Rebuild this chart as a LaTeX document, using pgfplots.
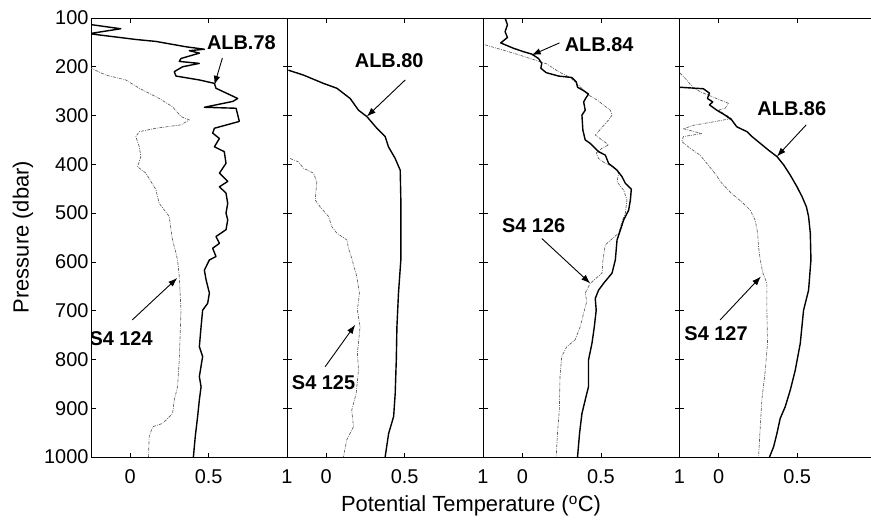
\documentclass[border=0pt]{standalone}
\usepackage{pgfplots}
\pgfplotsset{compat=1.18}
\usepackage{fontspec}
\setmainfont{Liberation Sans}
\usetikzlibrary{arrows.meta}

\pgfplotsset{
  panel/.style={
    scale only axis, width=196bp, height=439bp,
    anchor=south west,
    xmin=-0.25, xmax=1, ymin=100, ymax=1000, y dir=reverse,
    xtick={0,0.5,1}, xticklabels={0,0.5,1},
    ytick={100,200,...,1000}, yticklabels={},
    tick align=inside, major tick length=4.5bp,
    tick style={black, line width=0.7bp},
    axis line style={black, line width=1bp},
    ticklabel style={font=\fontsize{20}{20}\selectfont},
    xticklabel style={yshift=-9bp},
    yticklabel style={xshift=1bp},
    /pgf/number format/assume math mode=true,
    clip=true,
  },
}
\tikzset{
  alb/.style={black, line width=1.4bp, line join=round},
  s4/.style={black!65, line width=0.65bp, line join=round,
    dash pattern=on 3bp off 1.2bp on 0.8bp off 1.2bp},
  lbl/.style={font=\fontsize{20}{20}\selectfont\bfseries},
  arr/.style={-{Latex[length=9bp,width=6.5bp]}, line width=0.9bp, black},
}

\begin{document}
\begin{tikzpicture}[x=1bp,y=1bp]

% ---- ALB.78 / S4 124 ----
\begin{axis}[panel, at={(91bp,64bp)},
  yticklabels={100,200,300,400,500,600,700,800,900,1000}]
\addplot[s4] coordinates {
(-0.27,100) (-0.26,200) (-0.25,203) (-0.155,217) (-0.028,227) (0.058,244) (0.185,265)
(0.27,282) (0.324,302) (0.377,309) (0.324,319) (0.164,326) (0.058,333) (0.036,343)
(0.058,364) (0.068,384) (0.047,405) (0.1,418) (0.164,452) (0.185,480) (0.249,507)
(0.26,534) (0.27,555) (0.292,582) (0.302,596) (0.313,630) (0.324,699) (0.313,801)
(0.302,856) (0.281,883) (0.27,911) (0.207,931) (0.143,938) (0.121,958) (0.117,1000)};
\addplot[alb] coordinates {
(-0.27,110) (-0.24,114) (-0.06,122) (-0.24,131) (-0.24,133) (0.036,144) (0.164,148)
(0.356,159) (0.473,164) (0.377,167) (0.441,172) (0.324,183) (0.313,189) (0.441,193)
(0.334,200) (0.281,210) (0.292,219) (0.441,227) (0.537,234) (0.547,244) (0.686,265)
(0.654,271) (0.473,283) (0.675,285) (0.686,299) (0.696,312) (0.537,326) (0.526,336)
(0.569,347) (0.537,364) (0.6,374) (0.611,398) (0.569,418) (0.622,435) (0.569,446)
(0.611,459) (0.622,480) (0.611,500) (0.622,514) (0.611,534) (0.547,548) (0.569,562)
(0.526,572) (0.547,589) (0.505,596) (0.473,617) (0.484,637) (0.505,664) (0.494,685)
(0.462,699) (0.452,733) (0.441,774) (0.462,794) (0.441,835) (0.452,856) (0.441,883)
(0.430,917) (0.415,958) (0.403,1000)};
\node[lbl] at (axis cs:0.709,151) {ALB.78};
\draw[arr] (axis cs:0.588,182) -- (axis cs:0.537,237);
\node[lbl] at (axis cs:-0.058,758) {S4 124};
\draw[arr] (axis cs:0.013,719) -- (axis cs:0.30,633);
\end{axis}

% ---- ALB.80 / S4 125 ----
\begin{axis}[panel, at={(287bp,64bp)}]
\addplot[s4] coordinates {
(-0.23,388) (-0.177,395) (-0.145,408) (-0.081,418) (-0.06,436) (-0.07,473) (-0.039,487)
(0.015,507) (0.036,528) (0.068,541) (0.132,555) (0.142,572) (0.163,593) (0.195,630)
(0.212,664) (0.199,699) (0.216,733) (0.199,787) (0.206,822) (0.191,870) (0.163,904)
(0.174,938) (0.131,965) (0.110,1000)};
\addplot[alb] coordinates {
(-0.241,207) (-0.145,217) (-0.018,234) (0.068,244) (0.153,265) (0.206,289) (0.259,302)
(0.323,326) (0.376,343) (0.397,364) (0.44,388) (0.472,412) (0.476,473) (0.476,596)
(0.461,664) (0.451,733) (0.447,801) (0.44,870) (0.43,917) (0.398,952) (0.376,1000)};
\node[lbl] at (axis cs:0.402,188) {ALB.80};
\draw[arr] (axis cs:0.504,227) -- (axis cs:0.259,302);
\node[lbl] at (axis cs:-0.017,848) {S4 125};
\draw[arr] (axis cs:-0.007,815) -- (axis cs:0.185,729);
\end{axis}

% ---- ALB.84 / S4 126 ----
\begin{axis}[panel, at={(483.3bp,64bp)}]
\addplot[s4] coordinates {
(-0.239,155) (-0.164,162) (-0.058,172) (0.049,183) (0.155,194) (0.23,210) (0.304,222)
(0.368,241) (0.421,258) (0.475,268) (0.56,289) (0.571,299) (0.549,309) (0.464,340)
(0.507,350) (0.549,360) (0.507,367) (0.47,377) (0.485,388) (0.528,398) (0.581,405)
(0.613,418) (0.603,436) (0.645,453) (0.666,473) (0.656,500) (0.634,518) (0.613,541)
(0.528,565) (0.513,596) (0.507,623) (0.432,644) (0.4,664) (0.41,681) (0.39,705)
(0.368,733) (0.335,760) (0.282,774) (0.25,794) (0.239,835) (0.235,904) (0.223,951)
(0.215,1000)};
\addplot[alb] coordinates {
(-0.111,100) (-0.096,114) (-0.111,128) (-0.096,140) (-0.139,151) (-0.058,162) (0.006,169)
(0.059,174) (0.102,183) (0.123,193) (0.117,203) (0.151,212) (0.23,219) (0.315,222)
(0.343,231) (0.351,242) (0.39,249) (0.421,256) (0.406,263) (0.39,272) (0.4,289)
(0.379,299) (0.385,330) (0.4,350) (0.432,357) (0.485,374) (0.528,381) (0.549,398)
(0.603,412) (0.634,425) (0.656,439) (0.694,451) (0.688,473) (0.677,494) (0.645,514)
(0.624,535) (0.603,555) (0.592,596) (0.571,623) (0.517,644) (0.485,658) (0.464,675)
(0.47,699) (0.458,733) (0.443,767) (0.421,801) (0.421,856) (0.4,883) (0.379,911)
(0.364,951) (0.351,1000)};
\node[lbl] at (axis cs:0.489,155) {ALB.84};
\draw[arr] (axis cs:0.236,151) -- (axis cs:0.059,176);
\node[lbl] at (axis cs:0.071,525) {S4 126};
\draw[arr] (axis cs:0.123,552) -- (axis cs:0.432,644);
\end{axis}

% ---- ALB.86 / S4 127 (open on the right) ----
\begin{axis}[panel, at={(679.5bp,64bp)}, width=191.5bp, xmax=0.971,
  xtick={0,0.5}, xticklabels={0,0.5},
  axis x line*=box, axis y line*=left]
\addplot[s4] coordinates {
(-0.247,213) (-0.204,227) (-0.161,244) (-0.098,254) (-0.044,261) (0.009,268) (0.062,275)
(0.041,285) (-0.002,289) (0.083,306) (-0.036,313) (-0.161,320) (-0.225,327) (-0.108,337)
(-0.225,343) (-0.236,353) (-0.183,367) (-0.119,381) (-0.076,398) (-0.023,419) (0.02,439)
(0.083,460) (0.147,477) (0.201,494) (0.233,515) (0.248,541) (0.254,569) (0.265,596)
(0.282,623) (0.307,644) (0.307,699) (0.311,767) (0.297,822) (0.275,883) (0.265,938)
(0.254,1000)};
\addplot[alb] coordinates {
(-0.247,242) (-0.098,245) (-0.059,254) (-0.072,265) (-0.038,272) (-0.059,278) (-0.012,289)
(0.04,299) (0.083,309) (0.115,323) (0.18,333) (0.212,343) (0.265,357) (0.318,371)
(0.371,384) (0.414,401) (0.456,422) (0.499,446) (0.531,466) (0.559,487) (0.573,507)
(0.584,541) (0.588,596) (0.573,658) (0.541,699) (0.52,767) (0.488,822) (0.456,863)
(0.424,897) (0.392,921) (0.371,952) (0.35,979) (0.324,1000)};
\node[lbl] at (axis cs:0.466,286) {ALB.86};
\draw[arr] (axis cs:0.558,319) -- (axis cs:0.371,384);
\node[lbl] at (axis cs:-0.017,747) {S4 127};
\draw[arr] (axis cs:0.009,719) -- (axis cs:0.269,630);
\end{axis}

\node[rotate=90, font=\fontsize{22}{22}\selectfont] at (23bp,284bp) {Pressure (dbar)};
\node[font=\fontsize{22}{22}\selectfont] at (471bp,15bp) {Potential Temperature (\textsuperscript{o}C)};

\pgfresetboundingbox
\useasboundingbox (0,0) rectangle (871bp,521bp);
\end{tikzpicture}
\end{document}
